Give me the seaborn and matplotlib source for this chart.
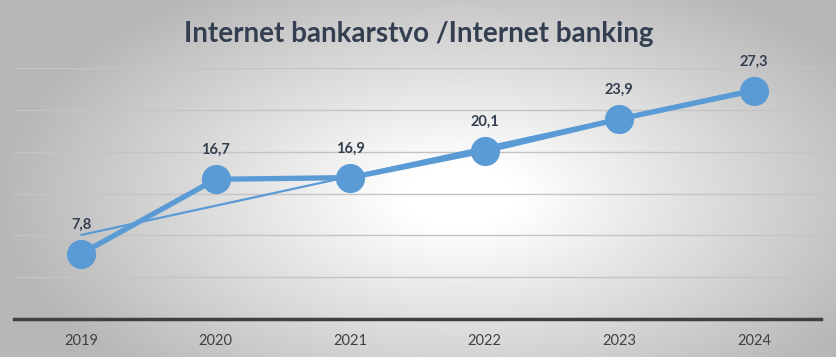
import numpy as np
import pandas as pd
import matplotlib.pyplot as plt
import seaborn as sns

# data
years = ["2019", "2020", "2021", "2022", "2023", "2024"]
values = [7.8, 16.7, 16.9, 20.1, 23.9, 27.3]
labels = ["7,8", "16,7", "16,9", "20,1", "23,9", "27,3"]

LINE_COLOR = "#5b9bd5"
TEXT_DARK = "#333f50"

df = pd.DataFrame({"pos": np.arange(len(years)), "value": values})

sns.set_theme(style="white")
plt.rcParams["font.family"] = ["Lato", "DejaVu Sans"]

fig = plt.figure(figsize=(8.37, 3.57), dpi=100)

# radial gradient background
bg = fig.add_axes([0, 0, 1, 1], zorder=-10)
gx, gy = np.meshgrid(np.linspace(0, 1, 400), np.linspace(0, 1, 200))
r = np.sqrt(((gx - 0.55) / 0.6) ** 2 + ((gy - 0.45) / 0.75) ** 2)
shade = 1.0 - 0.3 * np.clip(r - 0.12, 0, None) / 0.85
shade = np.clip(shade, 0.72, 1.0)
bg.imshow(np.dstack([shade] * 3), extent=[0, 1, 0, 1], aspect="auto", origin="lower")
bg.axis("off")

ax = fig.add_axes([0.0167, 0.1064, 0.9643, 0.7031])
ax.patch.set_alpha(0)

# linear trendline
sns.regplot(data=df, x="pos", y="value", ci=None, scatter=False, truncate=True,
            line_kws={"color": LINE_COLOR, "linewidth": 1.6, "zorder": 2}, ax=ax)

sns.lineplot(data=df, x="pos", y="value", color=LINE_COLOR, linewidth=3.8,
             marker="o", markersize=21, markeredgewidth=0, zorder=3, ax=ax)

for i, (v, lab) in enumerate(zip(values, labels)):
    ax.annotate(lab, (i, v), xytext=(0, 16), textcoords="offset points",
                ha="center", va="bottom", fontsize=10.5, fontweight="bold",
                color=TEXT_DARK, clip_on=False)

ax.set_xlim(-0.5, len(years) - 0.5)
ax.set_ylim(0, 30)
ax.set_yticks([0, 5, 10, 15, 20, 25, 30])
ax.yaxis.grid(True, color="#c4c4c4", linewidth=1)
ax.set_yticklabels([])
ax.tick_params(axis="y", length=0)
ax.set_xticks(range(len(years)))
ax.set_xticklabels(years, fontsize=10.5, color="#404040")
ax.tick_params(axis="x", length=0, pad=11)
ax.set_xlabel("")
ax.set_ylabel("")
for side in ["top", "right", "left"]:
    ax.spines[side].set_visible(False)
ax.spines["bottom"].set_color("#404040")
ax.spines["bottom"].set_linewidth(2.5)
ax.set_axisbelow(True)

fig.text(0.5, 0.905, "Internet bankarstvo /Internet banking", ha="center", va="center",
         fontsize=20, fontweight="bold", color=TEXT_DARK)

plt.savefig("out.png", dpi=100)
